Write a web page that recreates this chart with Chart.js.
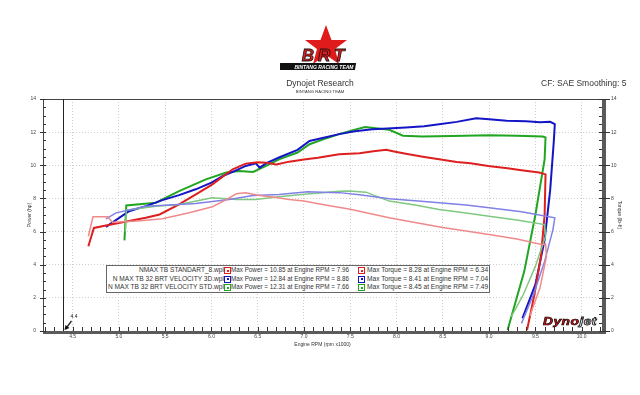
<!DOCTYPE html>
<html>
<head>
<meta charset="utf-8">
<script src="https://cdn.jsdelivr.net/npm/chart.js@4.4.1/dist/chart.umd.min.js"></script>
<style>
  body { margin: 0; background: #fff; }
  #wrap { position: relative; width: 640px; height: 395px; background: #fff; font-family: "Liberation Sans", Arial, sans-serif; overflow: hidden; }
  canvas { position: absolute; left: 0; top: 0; }
  .hdr { position: absolute; white-space: nowrap; color: #333; }
  #legend { position: absolute; left: 106px; top: 265px; background: #fff; border: 1px solid #666; font-size: 6.3px; color: #333; }
  #legend .row { height: 8.6px; line-height: 8.6px; white-space: nowrap; position: relative; }
  #legend .name { position: absolute; right: 265px; text-align: right; font-size: 6.6px; }
  #legend .sq { position: absolute; top: 1.3px; width: 5px; height: 5px; border: 1px solid; background: #fff; }
  #legend .sq i { position: absolute; left: 1.5px; top: 1.5px; width: 2px; height: 2px; }
  #legend .p { position: absolute; left: 124px; }
  #legend .t { position: absolute; left: 260px; font-size: 6.6px; }
</style>
</head>
<body>
<div id="wrap">
  <canvas id="dyno" width="640" height="395"></canvas>
  <svg class="hdr" style="left:280px;top:24px" width="90" height="50" viewBox="0 0 90 50">
    <polygon points="46,1 51.5,16 67,16 55,25 59,40 46,31 33,40 37,25 25,16 40.5,16" fill="#e01b1b"/>
    <text x="45" y="37" text-anchor="middle" font-family="Liberation Sans" font-weight="bold" font-style="italic" font-size="17" fill="#e01b1b" stroke="#111" stroke-width="0.8" letter-spacing="4">BRT</text>
    <rect x="7" y="39" width="76" height="7" fill="#111" transform="skewX(-10)"/>
    <text x="44" y="44.7" text-anchor="middle" font-family="Liberation Sans" font-weight="bold" font-style="italic" font-size="5" fill="#fff">BINTANG RACING TEAM</text>
  </svg>
  <div class="hdr" style="left:0;width:640px;top:78px;text-align:center;font-size:8.5px;">Dynojet Research</div>
  <div class="hdr" style="left:0;width:640px;top:89px;text-align:center;font-size:4.2px;">BINTANG RACING TEAM</div>
  <div class="hdr" style="left:541px;top:78px;font-size:8.5px;">CF: SAE Smoothing: 5</div>
  <div class="hdr" style="left:543px;top:315px;font-size:11px;font-weight:bold;font-style:italic;letter-spacing:0.4px;transform:scaleX(1.25);transform-origin:left top;"><span style="color:#d01010;-webkit-text-stroke:0.6px #000">Dyno</span><span style="color:#fff;-webkit-text-stroke:0.8px #222">jet</span></div>
  <div id="legend"></div>
</div>
<script>
// runs shown on the sheet
const runNames = ['NMAX TB STANDART_8.wpl', 'N MAX TB 32 BRT VELOCITY 3D.wpl', 'N MAX TB 32 BRT VELOCITY STD.wpl'];
const maxPower = [10.85, 12.84, 12.31];
const maxPowerRpm = [7.96, 8.86, 7.66];
const maxTorque = [8.28, 8.41, 8.45];
const maxTorqueRpm = [6.34, 7.04, 7.49];

// engine rpm (x1000) / power (hp) / torque (lb-ft)
const stdPowerRpm = [4.67, 4.73, 4.86, 5.04, 5.29, 5.44, 5.65, 5.85, 6.01, 6.23, 6.37, 6.50, 6.59, 6.70, 6.84, 7.00, 7.15, 7.38, 7.60, 7.75, 7.89, 7.96, 8.10, 8.30, 8.46, 8.65, 8.80, 8.99, 9.20, 9.35, 9.54, 9.61, 9.60, 9.56, 9.49, 9.41];
const stdPowerHp = [5.11, 6.22, 6.36, 6.56, 6.83, 7.03, 7.64, 8.30, 8.85, 9.76, 10.10, 10.18, 10.16, 10.05, 10.22, 10.35, 10.45, 10.67, 10.72, 10.85, 10.93, 10.85, 10.70, 10.50, 10.36, 10.20, 10.12, 9.96, 9.82, 9.70, 9.56, 9.45, 7.00, 4.50, 2.20, 0.05];
const stdTorqueRpm = [4.67, 4.72, 4.88, 4.93, 5.20, 5.47, 5.76, 6.01, 6.15, 6.27, 6.37, 6.52, 6.70, 6.84, 7.00, 7.20, 7.50, 7.92, 8.20, 8.50, 9.00, 9.30, 9.58, 9.61, 9.62, 9.55, 9.44];
const stdTorqueLbft = [5.72, 6.89, 6.89, 6.56, 6.64, 6.77, 7.13, 7.50, 7.90, 8.28, 8.34, 8.18, 8.05, 7.94, 7.85, 7.64, 7.35, 6.83, 6.55, 6.25, 5.82, 5.55, 5.21, 5.27, 4.50, 2.60, 0.90];
const velo3dPowerRpm = [4.86, 5.11, 5.30, 5.47, 5.65, 5.83, 6.00, 6.12, 6.25, 6.37, 6.48, 6.52, 6.60, 6.73, 6.93, 7.06, 7.20, 7.38, 7.55, 7.74, 7.90, 8.10, 8.30, 8.46, 8.65, 8.86, 9.00, 9.19, 9.40, 9.55, 9.66, 9.71, 9.70, 9.66, 9.60, 9.50, 9.36];
const velo3dPowerHp = [6.28, 7.23, 7.55, 7.90, 8.20, 8.55, 8.95, 9.35, 9.65, 9.96, 10.12, 9.86, 10.15, 10.47, 10.93, 11.47, 11.65, 11.88, 12.05, 12.18, 12.22, 12.28, 12.35, 12.48, 12.62, 12.84, 12.78, 12.69, 12.66, 12.59, 12.62, 12.48, 11.50, 8.50, 5.50, 2.80, 0.77];
const velo3dTorqueRpm = [4.86, 4.97, 5.29, 5.55, 5.83, 6.19, 6.45, 6.73, 7.04, 7.20, 7.38, 7.60, 7.92, 8.20, 8.46, 8.75, 9.00, 9.35, 9.71, 9.69, 9.60, 9.48, 9.35];
const velo3dTorqueLbft = [6.77, 7.13, 7.53, 7.60, 7.70, 7.94, 8.18, 8.24, 8.41, 8.38, 8.35, 8.22, 7.98, 7.86, 7.74, 7.60, 7.44, 7.20, 6.83, 6.12, 4.20, 2.20, 0.46];
const veloStdPowerRpm = [5.06, 5.08, 5.40, 5.65, 5.94, 6.16, 6.30, 6.45, 6.59, 6.73, 6.93, 7.06, 7.20, 7.38, 7.55, 7.66, 7.80, 7.92, 8.07, 8.28, 8.60, 9.00, 9.30, 9.58, 9.61, 9.60, 9.50, 9.38, 9.20];
const veloStdPowerHp = [5.47, 7.58, 7.74, 8.44, 9.15, 9.56, 9.66, 9.60, 9.96, 10.36, 10.77, 11.27, 11.55, 11.88, 12.15, 12.31, 12.22, 12.14, 11.78, 11.74, 11.76, 11.82, 11.78, 11.74, 11.68, 10.36, 7.00, 3.60, 0.06];
const veloStdTorqueRpm = [5.07, 5.08, 5.40, 5.65, 6.01, 6.27, 6.48, 6.73, 7.00, 7.20, 7.38, 7.49, 7.67, 7.92, 8.20, 8.46, 8.75, 9.00, 9.30, 9.60, 9.61, 9.50, 9.37, 9.24];
const veloStdTorqueLbft = [6.00, 7.29, 7.53, 7.64, 8.04, 7.94, 7.94, 8.10, 8.25, 8.35, 8.44, 8.45, 8.38, 7.84, 7.60, 7.33, 7.12, 6.93, 6.70, 6.42, 5.72, 3.90, 2.20, 0.87];

const xTickLabels = ['4.5', '5.0', '5.5', '6.0', '6.5', '7.0', '7.5', '8.0', '8.5', '9.0', '9.5', '10.0'];
const yTickLabels = ['0', '2', '4', '6', '8', '10', '12', '14'];
const markerRpm = 4.4;

const red = '#dd1f1f', redLight = '#f08a8a';
const blue = '#1515c8', blueLight = '#8080e6';
const green = '#22a522', greenLight = '#80c880';
const runColors = [red, blue, green];

function pts(xs, ys) {
  return xs.map((x, i) => ({ x: x, y: ys[i] }));
}

function line(label, xs, ys, color, width, axis) {
  return {
    label: label,
    data: pts(xs, ys),
    showLine: true,
    borderColor: color,
    borderWidth: width,
    pointRadius: 0,
    tension: 0,
    yAxisID: axis
  };
}

// legend box with the max values
const legend = document.getElementById('legend');
legend.style.width = '382px';
runNames.forEach((name, i) => {
  const c = runColors[i];
  legend.innerHTML +=
    '<div class="row">' +
    '<span class="name">' + name + '</span>' +
    '<span class="sq" style="left:117px;border-color:' + c + '"><i style="background:' + c + '"></i></span>' +
    '<span class="p">Max Power = ' + maxPower[i].toFixed(2) + ' at Engine RPM = ' + maxPowerRpm[i].toFixed(2) + '</span>' +
    '<span class="sq" style="left:251px;border-color:' + c + '"><i style="background:' + c + '"></i></span>' +
    '<span class="t">Max Torque = ' + maxTorque[i].toFixed(2) + ' at Engine RPM = ' + maxTorqueRpm[i].toFixed(2) + '</span>' +
    '</div>';
});

// frame, axis bars, minor ticks and the 4.4 marker
const dynoFrame = {
  id: 'dynoFrame',
  afterDraw(chart) {
    const { ctx, chartArea: a, scales } = chart;
    const x = scales.x, y = scales.y;
    ctx.save();
    ctx.fillStyle = '#5a5a5a';
    ctx.fillRect(a.left, a.bottom, a.right - a.left + 4, 3);
    ctx.fillRect(a.right, a.top, 4, a.bottom - a.top + 3);
    ctx.strokeStyle = '#444';
    ctx.lineWidth = 1;
    ctx.beginPath();
    ctx.moveTo(a.left + 0.5, a.bottom);
    ctx.lineTo(a.left + 0.5, a.top + 0.5);
    ctx.lineTo(a.right, a.top + 0.5);
    ctx.stroke();

    ctx.strokeStyle = '#333';
    ctx.beginPath();
    for (let i = 42; i <= 102; i++) {
      const px = Math.round(x.getPixelForValue(i / 10)) + 0.5;
      ctx.moveTo(px, a.bottom - 4);
      ctx.lineTo(px, a.bottom);
    }
    for (let i = 0; i <= 28; i++) {
      const py = Math.round(y.getPixelForValue(i / 2)) + 0.5;
      const major = i % 4 === 0;
      ctx.moveTo(a.left - (major ? 3 : 0), py);
      ctx.lineTo(a.left + 3, py);
      ctx.moveTo(a.right - 3, py);
      ctx.lineTo(a.right + (major ? 8 : 0), py);
    }
    ctx.stroke();

    const mx = Math.round(x.getPixelForValue(markerRpm)) + 0.5;
    ctx.strokeStyle = '#222';
    ctx.beginPath();
    ctx.moveTo(mx, a.top);
    ctx.lineTo(mx, a.bottom);
    ctx.stroke();
    ctx.lineWidth = 1.3;
    ctx.beginPath();
    ctx.moveTo(mx + 8, a.bottom - 10);
    ctx.lineTo(mx + 2, a.bottom - 2);
    ctx.stroke();
    ctx.fillStyle = '#111';
    ctx.beginPath();
    ctx.moveTo(mx + 1, a.bottom - 1);
    ctx.lineTo(mx + 2, a.bottom - 6);
    ctx.lineTo(mx + 6, a.bottom - 3);
    ctx.closePath();
    ctx.fill();
    ctx.font = '5px "Liberation Sans"';
    ctx.fillText(markerRpm.toFixed(1), mx + 7, a.bottom - 13);
    ctx.restore();
  }
};

const tickFont = { family: 'Liberation Sans', size: 5 };
const titleFont = { family: 'Liberation Sans', size: 5 };

new Chart(document.getElementById('dyno'), {
  type: 'scatter',
  data: {
    datasets: [
      line('NMAX TB STANDART torque', stdTorqueRpm, stdTorqueLbft, redLight, 1.5, 'y2'),
      line('VELOCITY 3D torque', velo3dTorqueRpm, velo3dTorqueLbft, blueLight, 1.5, 'y2'),
      line('VELOCITY STD torque', veloStdTorqueRpm, veloStdTorqueLbft, greenLight, 1.5, 'y2'),
      line('NMAX TB STANDART power', stdPowerRpm, stdPowerHp, red, 2, 'y'),
      line('VELOCITY 3D power', velo3dPowerRpm, velo3dPowerHp, blue, 2, 'y'),
      line('VELOCITY STD power', veloStdPowerRpm, veloStdPowerHp, green, 2, 'y')
    ]
  },
  options: {
    responsive: false,
    animation: false,
    devicePixelRatio: 1,
    layout: { padding: { top: 99, left: 0, right: 0, bottom: 0 } },
    plugins: { legend: { display: false }, tooltip: { enabled: false } },
    scales: {
      x: {
        type: 'linear',
        min: 4.18,
        max: 10.22,
        afterFit: s => { s.height = 64; },
        grid: { color: '#cfcfcf', drawTicks: false },
        border: { display: false, dash: [1, 2] },
        ticks: {
          stepSize: 0.5,
          includeBounds: false,
          padding: 3,
          color: '#444',
          font: tickFont,
          callback: v => xTickLabels[Math.round((v - 4.5) * 2)]
        },
        title: { display: true, text: 'Engine RPM (rpm x1000)', color: '#333', font: titleFont, padding: { top: 0, bottom: 47 } }
      },
      y: {
        position: 'left',
        min: 0,
        max: 14,
        afterFit: s => { s.width = 43; },
        grid: { color: '#cfcfcf', drawTicks: false },
        border: { display: false, dash: [1, 2] },
        ticks: { stepSize: 2, padding: 7, color: '#444', font: tickFont, callback: v => yTickLabels[v / 2] },
        title: { display: true, text: 'Power (hp)', color: '#333', font: titleFont, padding: { top: 27, bottom: 0 } }
      },
      y2: {
        position: 'right',
        min: 0,
        max: 14,
        afterFit: s => { s.width = 38; },
        grid: { display: false, drawTicks: false },
        border: { display: false },
        ticks: { stepSize: 2, padding: 9, color: '#444', font: tickFont, callback: v => yTickLabels[v / 2] },
        title: { display: true, text: 'Torque (lb-ft)', color: '#333', font: titleFont, padding: { top: 18, bottom: 0 } }
      }
    }
  },
  plugins: [dynoFrame]
});
</script>
</body>
</html>
